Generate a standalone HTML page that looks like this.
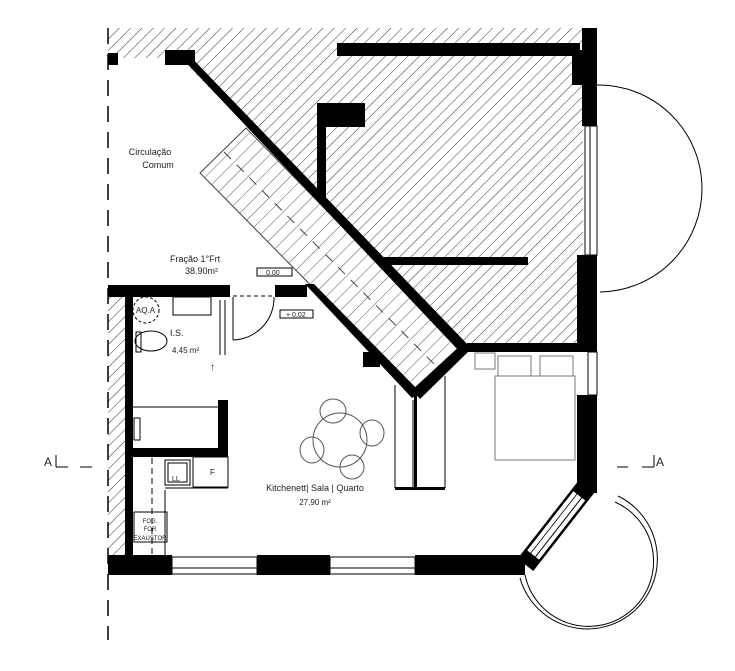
<!DOCTYPE html>
<html><head><meta charset="utf-8"><style>
html,body{margin:0;padding:0;background:#fff}
svg{display:block}
text{font-family:"Liberation Sans",sans-serif;fill:#222}
</style></head><body>
<svg width="735" height="671" viewBox="0 0 735 671" xmlns="http://www.w3.org/2000/svg">
<defs>
<pattern id="h" width="8" height="8" patternUnits="userSpaceOnUse" patternTransform="rotate(45)">
<line x1="0" y1="0" x2="0" y2="8" stroke="#333" stroke-width="1"/></pattern>
<pattern id="s" width="10" height="10" patternUnits="userSpaceOnUse" patternTransform="rotate(45)">
<line x1="0" y1="0" x2="0" y2="10" stroke="#444" stroke-width="0.9"/></pattern>
</defs>
<rect width="735" height="671" fill="#fff"/>
<polygon points="108,28 583,28 583,350 467,350 180,58 108,58" fill="url(#h)"/>
<polygon points="200,173 246,128 463,350 417,393" fill="#fff" stroke="#444" stroke-width="1"/>
<polygon points="200,173 246,128 463,350 417,393" fill="url(#s)"/>
<line x1="224" y1="152" x2="440" y2="370" stroke="#444" stroke-width="1" stroke-dasharray="10,8"/>
<rect x="108" y="297" width="17" height="258" fill="url(#h)"/>
<line x1="108" y1="28" x2="108" y2="640" stroke="#000" stroke-width="1.5" stroke-dasharray="16,10"/>
<g fill="#000">
<rect x="108" y="53" width="10" height="12"/>
<rect x="165" y="50" width="30" height="15"/>
<polygon points="176,52 186,52 470,347 460,352"/>
<polygon points="305,284 314,284 421,393 412,398"/>
<polygon points="412,390 463,343 470,350 420,399"/>
<rect x="337" y="43" width="243" height="13"/>
<rect x="582" y="28" width="15" height="98"/>
<rect x="572" y="50" width="12" height="35"/>
<rect x="317" y="103" width="48" height="24"/>
<rect x="317" y="103" width="9" height="95"/>
<rect x="380" y="257" width="148" height="8"/>
<rect x="577" y="255" width="20" height="95"/>
<rect x="467" y="343" width="130" height="9"/>
<rect x="577" y="395" width="20" height="98"/>
<rect x="108" y="285" width="122" height="12"/>
<rect x="275" y="285" width="32" height="12"/>
<rect x="125" y="285" width="8" height="270"/>
<rect x="218" y="285" width="10" height="12"/>
<rect x="218" y="400" width="10" height="50"/>
<rect x="133" y="448" width="95" height="9"/>
<rect x="363" y="352" width="17" height="15"/>
<rect x="108" y="555" width="64" height="20"/>
<rect x="257" y="555" width="73" height="20"/>
<rect x="415" y="555" width="110" height="20"/>
<rect x="395" y="487" width="50" height="3"/>
<rect x="414" y="392" width="3" height="98"/>
</g>
<g transform="translate(587,486) rotate(128)">
<rect x="0" y="-10" width="100" height="20" fill="#000"/>
<rect x="12" y="-8" width="76" height="16" fill="#fff" stroke="#000" stroke-width="1"/>
<line x1="12" y1="-3" x2="88" y2="-3" stroke="#000" stroke-width="1"/>
<line x1="12" y1="3" x2="88" y2="3" stroke="#000" stroke-width="0.8"/>
</g>
<g fill="none" stroke="#000" stroke-width="1">
<rect x="172" y="557" width="85" height="17"/><line x1="172" y1="568" x2="257" y2="568"/>
<rect x="330" y="557" width="85" height="17"/><line x1="330" y1="568" x2="415" y2="568"/>
<rect x="585" y="126" width="12" height="129"/><line x1="590" y1="126" x2="590" y2="255"/>
<rect x="588" y="352" width="9" height="43"/>
<line x1="220" y1="300" x2="220" y2="355"/><line x1="225" y1="300" x2="225" y2="355"/>
<line x1="233" y1="297" x2="233" y2="340"/>
<path d="M233,340 A42,42 0 0 0 274,297"/>
<line x1="233" y1="296" x2="274" y2="296" stroke-dasharray="4,3"/>
<rect x="173" y="297" width="38" height="18"/>
<ellipse cx="151" cy="341" rx="16" ry="10"/>
<rect x="136" y="332" width="5" height="20"/>
<line x1="133" y1="407" x2="218" y2="407"/>
<rect x="134" y="418" width="6" height="22"/>
<rect x="165" y="460" width="25" height="25"/><rect x="168" y="463" width="19" height="19"/>
<rect x="193" y="457" width="35" height="30"/>
<line x1="165" y1="488" x2="228" y2="488"/><line x1="165" y1="490" x2="165" y2="555"/>
<line x1="152" y1="458" x2="152" y2="555" stroke-dasharray="6,4"/>
<rect x="134" y="512" width="33" height="30"/>
<line x1="395" y1="385" x2="395" y2="488"/><line x1="445" y1="376" x2="445" y2="488"/>
<line x1="413" y1="400" x2="413" y2="488"/>
<rect x="495" y="376" width="80" height="84" stroke="#777"/>
<rect x="498" y="356" width="33" height="20" stroke="#777"/>
<rect x="540" y="356" width="33" height="20" stroke="#777"/>
<rect x="475" y="353" width="20" height="16" stroke="#777"/>
<circle cx="340" cy="440" r="27" stroke="#555"/>
<ellipse cx="333" cy="411" rx="13" ry="12" stroke="#555"/>
<ellipse cx="372" cy="433" rx="12" ry="13" stroke="#555"/>
<ellipse cx="352" cy="467" rx="12" ry="12" stroke="#555"/>
<ellipse cx="312" cy="450" rx="12" ry="13" stroke="#555"/>
<path d="M597,85 A103,103 0 0 1 600,292"/>
<path d="M520,578 A70,70 0 1 0 618,496"/>
<path d="M525,575 A65,65 0 1 0 615,502"/>
<rect x="257" y="268" width="35" height="8"/>
<rect x="280" y="310" width="33" height="8"/>
<circle cx="146" cy="310" r="13" stroke-dasharray="3,2"/>
</g>
<g font-size="9">
<text x="150" y="155" text-anchor="middle">Circulação</text>
<text x="158" y="168" text-anchor="middle">Comum</text>
<text x="170" y="262">Fração 1°Frt</text>
<text x="185" y="274">38.90m²</text>
<text x="266" y="275" font-size="7">0.00</text>
<text x="286" y="317" font-size="7">+ 0.02</text>
<text x="136" y="313" font-size="8">AQ.A</text>
<text x="170" y="336">I.S.</text>
<text x="172" y="353" font-size="8">4,45 m²</text>
<text x="210" y="475" font-size="8">F</text>
<text x="172" y="481" font-size="7">LL</text>
<text x="315" y="491" text-anchor="middle">Kitchenett| Sala | Quarto</text>
<text x="315" y="505" text-anchor="middle" font-size="8">27,90 m²</text>
<text x="150" y="523" font-size="6" text-anchor="middle">FOG.</text>
<text x="150" y="531" font-size="6" text-anchor="middle">FOR</text>
<text x="150" y="540" font-size="6" text-anchor="middle">EXAUSTOR</text>
<text x="210" y="370" font-size="10">↑</text>
<text x="44" y="466" font-size="12">A</text>
<text x="656" y="466" font-size="12">A</text>
</g>
<g stroke="#000" stroke-width="1">
<line x1="56" y1="455" x2="56" y2="467"/><line x1="56" y1="467" x2="68" y2="467"/>
<line x1="80" y1="467" x2="92" y2="467"/>
<line x1="654" y1="455" x2="654" y2="467"/><line x1="642" y1="467" x2="654" y2="467"/>
<line x1="617" y1="467" x2="628" y2="467"/>
</g>
</svg>
</body></html>
